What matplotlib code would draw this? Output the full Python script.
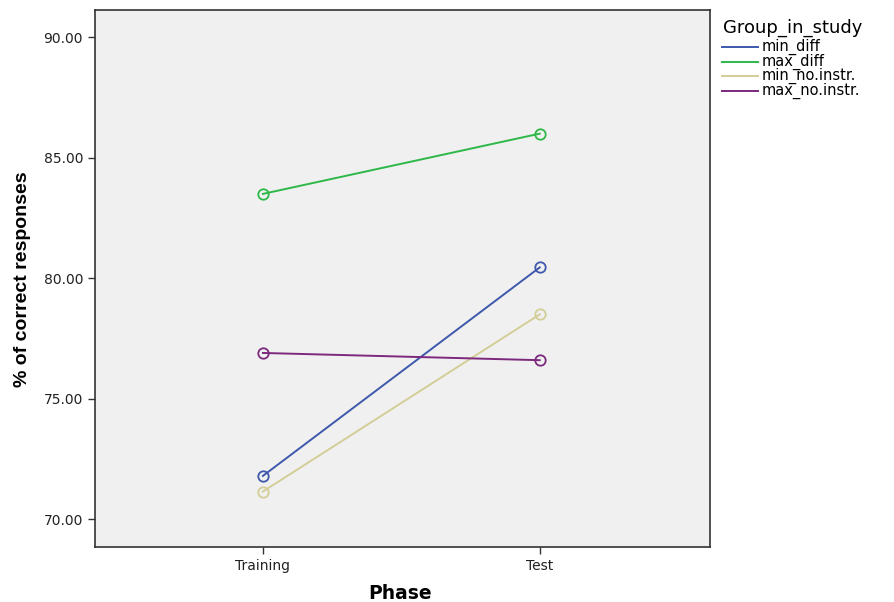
import matplotlib.pyplot as plt
from matplotlib.lines import Line2D

phases = ["Training", "Test"]
groups = ["min_diff", "max_diff", "min_no.instr.", "max_no.instr."]
min_diff = [71.8, 80.45]
max_diff = [83.5, 86.0]
min_no_instr = [71.15, 78.5]
max_no_instr = [76.9, 76.6]

colors = ["#3e58ac", "#2eb848", "#d3ce97", "#7c287d"]
series = [min_diff, max_diff, min_no_instr, max_no_instr]

plt.rcParams['font.family'] = ['DejaVu Sans']

W, H = 895, 602
fig = plt.figure(figsize=(W / 100, H / 100), dpi=100)
ax = fig.add_axes([0.106, 0.091, 0.687, 0.892])
ax.set_facecolor("#f0f0f0")

x = list(range(len(phases)))
for name, vals, c in zip(groups, series, colors):
    ax.plot(x, vals, color=c, lw=1.4, marker="o", markersize=7.5,
            markerfacecolor="none", markeredgecolor=c, markeredgewidth=1.3,
            label=name)

ax.set_xlim(-0.607, 1.614)
ax.set_ylim(68.84, 91.12)
ax.set_xticks(x)
ax.set_xticklabels(phases, fontsize=10)
ax.set_yticks([70, 75, 80, 85, 90])
ax.set_yticklabels([f"{v:.2f}" for v in [70, 75, 80, 85, 90]], fontsize=10)
ax.tick_params(length=5, width=1, color="#333333", labelcolor="#222222")
for s in ax.spines.values():
    s.set_color("#333333")
    s.set_linewidth(1.2)

ax.set_xlabel("Phase", fontsize=13.5, fontweight="bold", va="center")
ax.xaxis.set_label_coords(0.497, -0.086)
ax.set_ylabel("% of correct responses", fontsize=14, fontweight="bold",
              family=["Liberation Sans Narrow", "Liberation Sans"], va="center")
ax.yaxis.set_label_coords(-0.118, 0.5)

# legend drawn by hand, outside the axes (pixel positions from the top-left)
def fx(px):
    return px / W

def fy(py):
    return 1 - py / H

fig.text(fx(723), fy(28), "Group_in_study", fontsize=13, ha="left", va="center")
for i, (name, c) in enumerate(zip(groups, colors)):
    yy = 47 + i * 14.5
    fig.add_artist(Line2D([fx(722), fx(758)], [fy(yy), fy(yy)], color=c,
                          lw=1.4, transform=fig.transFigure))
    fig.text(fx(762), fy(yy), name, fontsize=10.5, ha="left", va="center")

fig.savefig("out.png", dpi=100)
